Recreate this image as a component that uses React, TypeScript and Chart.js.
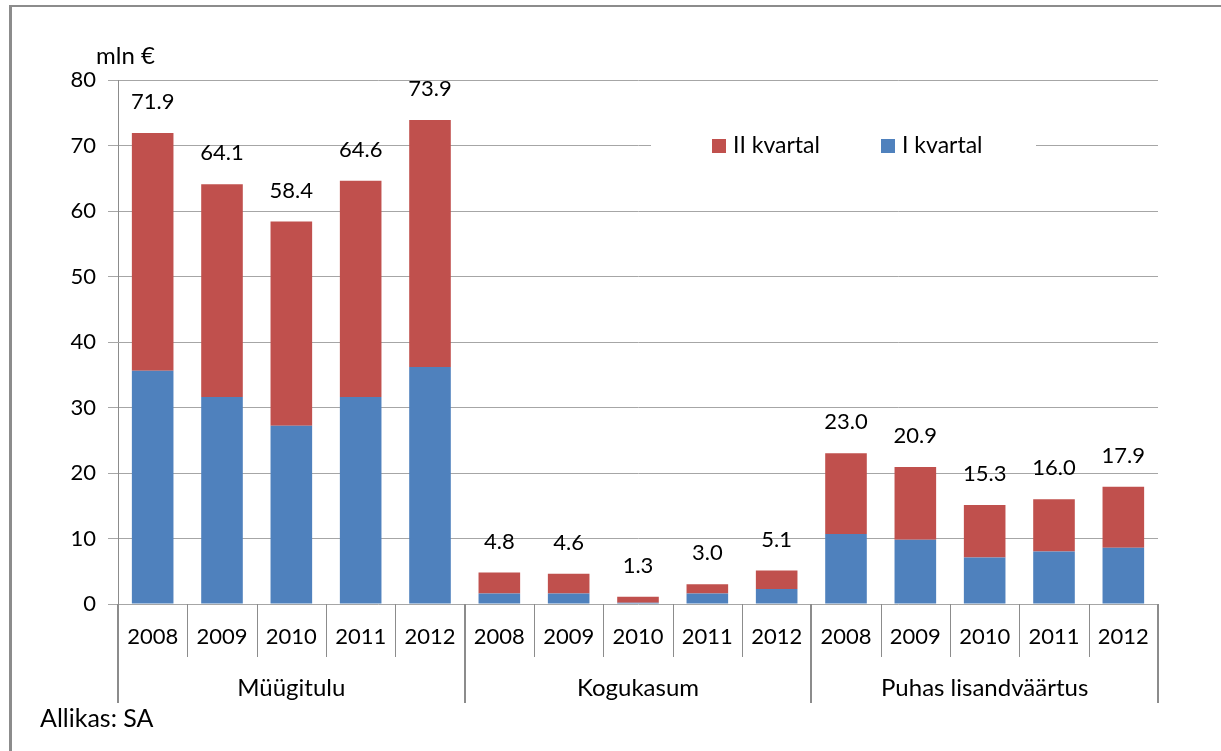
import React, { useEffect, useRef } from "react";
import { Chart, registerables } from "chart.js";

Chart.register(...registerables);

const groups = ["Müügitulu", "Kogukasum", "Puhas lisandväärtus"];
const years = ["2008", "2009", "2010", "2011", "2012"];
const quarter1 = [35.6, 31.6, 27.2, 31.6, 36.2, 1.6, 1.6, 0.2, 1.6, 2.3, 10.7, 9.8, 7.1, 8.0, 8.6];
const quarter2 = [36.3, 32.5, 31.2, 33.0, 37.7, 3.2, 3.0, 0.9, 1.4, 2.8, 12.3, 11.1, 8.0, 8.0, 9.3];
const totalLabels = ["71.9", "64.1", "58.4", "64.6", "73.9", "4.8", "4.6", "1.3", "3.0", "5.1", "23.0", "20.9", "15.3", "16.0", "17.9"];
const seriesNames = ["I kvartal", "II kvartal"];
const yMin = 0;
const yMax = 80;
const yStep = 10;
const unitLabel = "mln €";
const sourceLabel = "Allikas: SA";

const BLUE = "#4F81BD";
const RED = "#C0504D";
const FONT = "Lato, 'Open Sans', sans-serif";
const LINE = "#8c8c8c";

const categories: string[] = [];
groups.forEach((g) => years.forEach((y) => categories.push(g + " " + y)));

const groupAxisPlugin = {
  id: "groupAxis",
  afterDraw(chart: any) {
    const ctx = chart.ctx;
    const xs = chart.scales.x;
    const area = chart.chartArea;
    const n = categories.length;
    const step = xs.getPixelForValue(1) - xs.getPixelForValue(0);
    ctx.save();
    for (let i = 0; i <= n; i++) {
      const bx = i < n ? xs.getPixelForValue(i) - step / 2 : xs.getPixelForValue(n - 1) + step / 2;
      const isGroup = i % years.length === 0;
      ctx.beginPath();
      ctx.strokeStyle = LINE;
      ctx.lineWidth = isGroup ? 2 : 1;
      const px = isGroup ? Math.round(bx) : Math.round(bx) + 0.5;
      ctx.moveTo(px, area.bottom);
      ctx.lineTo(px, area.bottom + (isGroup ? 99 : 53));
      ctx.stroke();
    }
    ctx.fillStyle = "#000";
    ctx.textAlign = "center";
    ctx.textBaseline = "middle";
    ctx.font = "22px " + FONT;
    for (let i = 0; i < n; i++) {
      ctx.fillText(years[i % years.length], xs.getPixelForValue(i), area.bottom + 33);
    }
    ctx.font = "24px " + FONT;
    groups.forEach((g, gi) => {
      const a = xs.getPixelForValue(gi * years.length);
      const b = xs.getPixelForValue(gi * years.length + years.length - 1);
      ctx.fillText(g, (a + b) / 2, area.bottom + 84);
    });
    ctx.restore();
  },
};

const totalsPlugin = {
  id: "totals",
  afterDatasetsDraw(chart: any) {
    const ctx = chart.ctx;
    const meta = chart.getDatasetMeta(1);
    ctx.save();
    ctx.fillStyle = "#000";
    ctx.textAlign = "center";
    ctx.textBaseline = "middle";
    ctx.font = "22px " + FONT;
    meta.data.forEach((el: any, i: number) => {
      ctx.fillText(totalLabels[i], el.x, el.y - 31);
    });
    ctx.restore();
  },
};

const legendPlugin = {
  id: "customLegend",
  afterDraw(chart: any) {
    const ctx = chart.ctx;
    const area = chart.chartArea;
    const left = area.left + 533;
    const top = area.top + 46;
    ctx.save();
    ctx.fillStyle = "#fff";
    ctx.fillRect(left, top, 385, 40);
    ctx.font = "23px " + FONT;
    ctx.textBaseline = "middle";
    ctx.textAlign = "left";
    const items = [
      { label: chart.data.datasets[1].label, color: chart.data.datasets[1].backgroundColor, x: left + 61 },
      { label: chart.data.datasets[0].label, color: chart.data.datasets[0].backgroundColor, x: left + 230 },
    ];
    items.forEach((it) => {
      ctx.fillStyle = it.color;
      ctx.fillRect(it.x, top + 13, 14, 14);
      ctx.fillStyle = "#000";
      ctx.fillText(it.label, it.x + 21, top + 20);
    });
    ctx.restore();
  },
};

export default function App() {
  const canvasRef = useRef<HTMLCanvasElement | null>(null);

  useEffect(() => {
    if (!canvasRef.current) return;
    const chart = new Chart(canvasRef.current, {
      type: "bar",
      data: {
        labels: categories,
        datasets: [
          { label: seriesNames[0], data: quarter1, backgroundColor: BLUE, categoryPercentage: 1, barPercentage: 0.6 },
          { label: seriesNames[1], data: quarter2, backgroundColor: RED, categoryPercentage: 1, barPercentage: 0.6 },
        ],
      },
      options: {
        animation: false,
        responsive: true,
        maintainAspectRatio: false,
        layout: { padding: { left: 0, top: 80, right: 63, bottom: 147 } },
        plugins: { legend: { display: false }, tooltip: { enabled: false }, title: { display: false } },
        scales: {
          x: { stacked: true, display: false },
          y: {
            stacked: true,
            min: yMin,
            max: yMax,
            ticks: { stepSize: yStep, color: "#000", font: { family: FONT, size: 22 }, padding: 12 },
            grid: { color: "#a6a6a6", tickLength: 10, drawTicks: true, lineWidth: 1 },
            border: { display: true, color: LINE, width: 1 },
            afterFit: (s: any) => {
              s.width = 118;
            },
          },
        },
      },
      plugins: [groupAxisPlugin, totalsPlugin, legendPlugin],
    });
    return () => chart.destroy();
  }, []);

  return (
    <div style={{ position: "fixed", left: 0, top: 0, width: 1221, height: 751, background: "#fff", overflow: "hidden" }}>
      <div
        style={{
          position: "absolute",
          left: 9,
          top: 5,
          width: 1400,
          height: 900,
          borderTop: "2px solid #8c8c8c",
          borderLeft: "3px solid #8c8c8c",
        }}
      />
      <div style={{ position: "absolute", left: 0, top: 0, width: 1221, height: 751 }}>
        <canvas ref={canvasRef} />
      </div>
      <div style={{ position: "absolute", left: 96, top: 41, fontFamily: FONT, fontSize: 24, color: "#000", lineHeight: "28px" }}>
        {unitLabel}
      </div>
      <div style={{ position: "absolute", left: 40, top: 703, fontFamily: FONT, fontSize: 25, color: "#000", lineHeight: "28px" }}>
        {sourceLabel}
      </div>
    </div>
  );
}
